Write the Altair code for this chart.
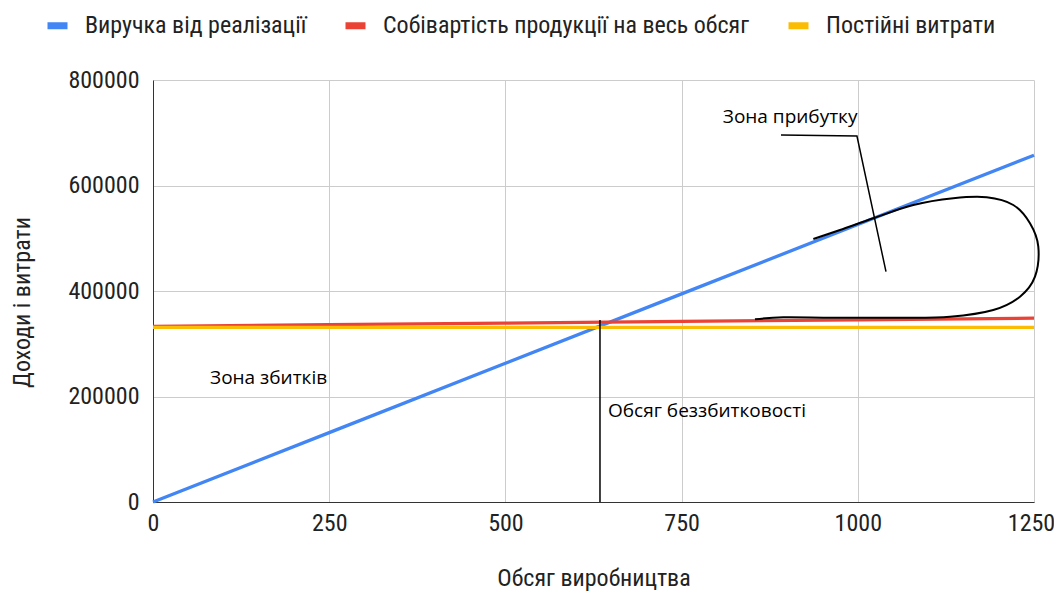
import altair as alt
import pandas as pd

# ---- data ----
volume = [0, 250, 500, 750, 1000, 1250]
revenue = [0, 131500, 263000, 394500, 526000, 657500]
total_cost = [333000, 336100, 339200, 342300, 345400, 348500]
fixed_cost = [331000, 331000, 331000, 331000, 331000, 331000]
series_names = ["Виручка від реалізації", "Собівартість продукції на весь обсяг", "Постійні витрати"]
series_colors = ["#4285F4", "#EA4335", "#FBBC04"]

loop_x = [936.9, 974.7, 1022.0, 1078.7, 1135.5, 1182.9, 1220.6, 1244.3, 1256.1, 1251.4,
          1230.1, 1192.2, 1130.8, 1059.8, 965.2, 894.3, 854.1]
loop_y = [498570, 515630, 537810, 563020, 575720, 577620, 563020, 528330, 483970, 427100,
          389190, 363970, 351270, 349380, 349380, 350140, 346340]

pointer_x = [891.0, 998.8, 1040.0]
pointer_y = [695720, 693820, 436580]

breakeven_x = [634.2, 634.2]
breakeven_y = [0, 345000]

label_text = ["Зона прибутку", "Зона збитків", "Обсяг беззбитковості"]
label_x = [904.0, 164.0, 645.6]
label_y = [729800, 235000, 172500]
label_align = ["center", "center", "left"]

x_ticks = [0, 250, 500, 750, 1000, 1250]
y_ticks = [0, 200000, 400000, 600000, 800000]

# ---- tables ----
rows = []
for name, vals in zip(series_names, [revenue, total_cost, fixed_cost]):
    for v, y in zip(volume, vals):
        rows.append({"x": v, "y": y, "series": name})
lines_df = pd.DataFrame(rows)
loop_df = pd.DataFrame({"x": loop_x, "y": loop_y, "o": list(range(len(loop_x)))})
ptr_df = pd.DataFrame({"x": pointer_x, "y": pointer_y, "o": list(range(len(pointer_x)))})
be_df = pd.DataFrame({"x": breakeven_x, "y": breakeven_y})
lab_df = pd.DataFrame({"x": label_x, "y": label_y, "t": label_text})

FONT = "Roboto Condensed"
ANN_FONT = "Open Sans"
FS = 24
TXT = "#222222"

xscale = alt.Scale(domain=[0, 1250], nice=False)
yscale = alt.Scale(domain=[0, 800000], nice=False)

xenc = alt.X("x:Q", scale=xscale, axis=alt.Axis(
    values=x_ticks, format="d", title="Обсяг виробництва", grid=True, ticks=False,
    labelPadding=9, labelFontSize=FS, labelFont=FONT, labelColor=TXT,
    labelOffset=alt.condition("datum.value == 1250", alt.value(-3), alt.value(0)),
    titleFont=FONT, titleFontSize=FS, titleFontWeight="normal", titleColor=TXT,
    titleX=440.5, titleY=76, titleAlign="center", titleBaseline="middle",
    domainColor="#333333", gridColor="#cccccc", labelFlush=False))
yenc = alt.Y("y:Q", scale=yscale, axis=alt.Axis(
    values=y_ticks, format="d", title="Доходи і витрати", grid=True, ticks=False,
    labelPadding=14, labelFontSize=FS, labelFont=FONT, labelColor=TXT,
    titleFont=FONT, titleFontSize=FS, titleFontWeight="normal", titleColor=TXT,
    titleX=-131, titleY=222, titleAngle=270, titleAlign="center", titleBaseline="middle",
    domainColor="#333333", gridColor="#cccccc"))

lines = alt.Chart(lines_df).mark_line(strokeWidth=3.3).encode(
    x=xenc, y=yenc,
    color=alt.Color("series:N", sort=series_names,
                    scale=alt.Scale(domain=series_names, range=series_colors),
                    legend=alt.Legend(
                        title=None, orient="none", direction="horizontal",
                        legendX=-109, legendY=-68,
                        symbolType="stroke", symbolSize=400,
                        symbolStrokeWidth=7, symbolOpacity=1,
                        labelFont=FONT, labelFontSize=FS, labelColor=TXT,
                        labelLimit=0, labelOffset=14, columnPadding=24)),
    detail="series:N",
)

loop = alt.Chart(loop_df).mark_line(color="black", strokeWidth=2, interpolate="cardinal").encode(
    x=alt.X("x:Q", scale=xscale), y=alt.Y("y:Q", scale=yscale), order="o:Q")
ptr = alt.Chart(ptr_df).mark_line(color="black", strokeWidth=1.5).encode(
    x=alt.X("x:Q", scale=xscale), y=alt.Y("y:Q", scale=yscale), order="o:Q")
be = alt.Chart(be_df).mark_line(color="black", strokeWidth=1.5).encode(
    x=alt.X("x:Q", scale=xscale), y=alt.Y("y:Q", scale=yscale))

texts = []
for i in range(len(label_text)):
    sub = lab_df.iloc[[i]]
    texts.append(alt.Chart(sub).mark_text(font=ANN_FONT, fontSize=19, color="black",
                                          align=label_align[i], baseline="middle").encode(
        x=alt.X("x:Q", scale=xscale), y=alt.Y("y:Q", scale=yscale), text="t:N"))

chart = alt.layer(lines, loop, ptr, be, *texts).properties(
    width=881, height=422,
    autosize=alt.AutoSizeParams(type="none"),
    padding={"left": 145, "top": 72, "right": 20, "bottom": 90},
).configure_view(stroke=None)

chart.save("out.html", embed_options={"renderer": "svg", "actions": False})
